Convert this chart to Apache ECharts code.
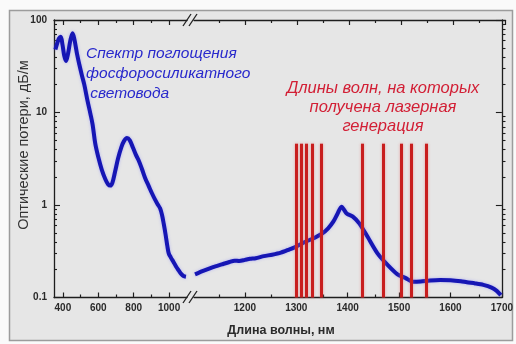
<!DOCTYPE html>
<html><head><meta charset="utf-8">
<script src="https://cdn.jsdelivr.net/npm/echarts@6/dist/echarts.min.js"></script>
<style>html,body{margin:0;padding:0;background:#fafafa}#c{width:516px;height:344px}</style>
</head><body><div id="c"></div>
<script>
// Absorption spectrum, visible/near-IR part (before the axis break), nm and dB/m
const leftWavelengths = [358, 368, 378, 388, 398, 408, 418, 430, 443, 455, 465, 480, 493, 508, 521, 540, 555, 568, 583, 600, 620, 640, 655, 668, 680, 695, 712, 730, 745, 762, 778, 795, 812, 827, 845, 865, 885, 903, 920, 935, 949, 960, 970, 980, 990, 998, 1010, 1024, 1040, 1055, 1068, 1081, 1095];
const leftLoss = [48, 56, 63, 66, 54, 41, 36, 44, 61, 72, 62, 43, 33, 25, 20, 13.2, 9.8, 7.4, 4.6, 3.3, 2.4, 1.9, 1.68, 1.62, 1.75, 2.3, 3.2, 4.2, 4.9, 5.3, 5.0, 4.2, 3.5, 3.06, 2.5, 1.95, 1.6, 1.34, 1.15, 1.02, 0.92, 0.78, 0.62, 0.48, 0.36, 0.30, 0.27, 0.244, 0.215, 0.195, 0.18, 0.171, 0.168];
// Absorption spectrum after the axis break
const rightWavelengths = [1103, 1120, 1138, 1155, 1170, 1180, 1189, 1200, 1210, 1221, 1237, 1253, 1270, 1286, 1300, 1318, 1335, 1350, 1362, 1372, 1380, 1388, 1398, 1410, 1423, 1439, 1458, 1478, 1497, 1513, 1526, 1542, 1560, 1580, 1600, 1620, 1632, 1648, 1664, 1680, 1690, 1698];
const rightLoss = [0.178, 0.195, 0.213, 0.228, 0.242, 0.25, 0.248, 0.255, 0.262, 0.266, 0.28, 0.29, 0.305, 0.33, 0.355, 0.40, 0.44, 0.49, 0.56, 0.66, 0.8, 0.96, 0.81, 0.75, 0.63, 0.45, 0.30, 0.224, 0.178, 0.162, 0.148, 0.149, 0.153, 0.155, 0.154, 0.15, 0.146, 0.142, 0.137, 0.128, 0.118, 0.106];
// Wavelengths of laser generation (red bars), nm
const laserWavelengths = [1299, 1309, 1320, 1331, 1349, 1428, 1470, 1504, 1523, 1553];
const laserBarTop = 4.6;
const laserBarBottom = 0.1;
// Tick values
const yMajorTicks = [0.1, 1, 10, 100];
const yMinorTicks = [0.2,0.3,0.4,0.5,0.6,0.7,0.8,0.9,2,3,4,5,6,7,8,9,20,30,40,50,60,70,80,90];
const leftXMajor = [400, 600, 800, 1000];
const leftXMinor = [500, 700, 900];
const rightXMajor = [1200, 1300, 1400, 1500, 1600, 1700];
const rightXMinor = [1150, 1250, 1350, 1450, 1550, 1650];

const AX = '#1e1e1e';
const FONT = 'Arial, Liberation Sans, sans-serif';
const labelStyle = {color: '#2a2a2a', fontSize: 10, fontWeight: 'bold', fontFamily: FONT};
const leftMin = 350, leftMax = 1101, rightMin = 1101, rightMax = 1700;
const leftRect = {left: 54, top: 20, width: 133, height: 277.5};
const rightRect = {left: 194, top: 20, width: 311.5, height: 277.5};

const grids = [], xAxes = [], yAxes = [];
// each grid holds exactly one x axis and one y axis
function addGrid(rect, x, y) {
  const g = grids.length;
  grids.push(Object.assign({}, rect));
  x.gridIndex = g; y.gridIndex = g;
  xAxes.push(x); yAxes.push(y);
  return g;
}
function xAx(min, max, pos, ticks, len, showLine, labels) {
  return {
    type: 'value', min: min, max: max, position: pos,
    axisLine: {show: showLine, onZero: false, lineStyle: {color: AX, width: 1.3}},
    axisTick: {show: true, inside: true, length: len, customValues: ticks, lineStyle: {color: AX, width: 1.2}},
    axisLabel: labels ? Object.assign({show: true, margin: 6, customValues: ticks,
      formatter: function (v) { return String(v); }}, labelStyle) : {show: false},
    splitLine: {show: false}
  };
}
function yAx(pos, ticks, len, showLine, labels, visible) {
  return {
    type: 'log', logBase: 10, min: 0.1, max: 100, position: pos, show: visible !== false,
    axisLine: {show: showLine, onZero: false, lineStyle: {color: AX, width: 1.3}},
    axisTick: {show: !!ticks, inside: true, length: len, customValues: ticks || undefined, lineStyle: {color: AX, width: 1.1}},
    axisLabel: labels ? Object.assign({show: true, margin: 7, customValues: ticks,
      formatter: function (v) { return String(v); }}, labelStyle) : {show: false},
    splitLine: {show: false}
  };
}

const gLeft = addGrid(leftRect, xAx(leftMin, leftMax, 'bottom', leftXMajor, 5, true, true), yAx('left', yMajorTicks, 6, true, true));
addGrid(leftRect, xAx(leftMin, leftMax, 'bottom', leftXMinor, 3, false, false), yAx('left', yMinorTicks, 3, false, false));
addGrid(leftRect, xAx(leftMin, leftMax, 'top', leftXMajor, 5, true, false), yAx('left', null, 0, false, false, false));
addGrid(leftRect, xAx(leftMin, leftMax, 'top', leftXMinor, 3, false, false), yAx('left', null, 0, false, false, false));
const gRight = addGrid(rightRect, xAx(rightMin, rightMax, 'bottom', rightXMajor, 5, true, true), yAx('right', yMajorTicks, 6, true, false));
addGrid(rightRect, xAx(rightMin, rightMax, 'bottom', rightXMinor, 3, false, false), yAx('right', yMinorTicks, 3, false, false));
addGrid(rightRect, xAx(rightMin, rightMax, 'top', rightXMajor, 5, true, false), yAx('right', null, 0, false, false, false));
addGrid(rightRect, xAx(rightMin, rightMax, 'top', rightXMinor, 3, false, false), yAx('right', null, 0, false, false, false));

const blueLine = {color: '#1616b4', width: 4, shadowColor: 'rgba(120,120,255,0.5)', shadowBlur: 3};
const option = {
  backgroundColor: '#fafafa',
  animation: false,
  grid: grids,
  xAxis: xAxes,
  yAxis: yAxes,
  series: [
    {
      type: 'line', xAxisIndex: gRight, yAxisIndex: gRight, data: [], z: 1, silent: true,
      markLine: {
        silent: true, symbol: ['none', 'none'], label: {show: false},
        lineStyle: {color: '#c81e1e', width: 3, type: 'solid', shadowColor: 'rgba(230,110,110,0.6)', shadowBlur: 3},
        data: laserWavelengths.map(function (w) { return [{coord: [w, laserBarBottom]}, {coord: [w, laserBarTop]}]; })
      }
    },
    {
      type: 'line', xAxisIndex: gLeft, yAxisIndex: gLeft, z: 3, showSymbol: false, smooth: 0.35, lineStyle: blueLine,
      data: leftWavelengths.map(function (w, i) { return [w, leftLoss[i]]; })
    },
    {
      type: 'line', xAxisIndex: gRight, yAxisIndex: gRight, z: 3, showSymbol: false, smooth: 0.25, lineStyle: blueLine,
      data: rightWavelengths.map(function (w, i) { return [w, rightLoss[i]]; })
    }
  ],
  graphic: [
    {type: 'rect', z: -10, shape: {x: 9.5, y: 10.5, width: 503, height: 330}, style: {fill: '#e6e6e6', stroke: '#9c9c9c', lineWidth: 1.5}},
    {type: 'line', z: 10, shape: {x1: 183, y1: 303, x2: 191, y2: 291}, style: {stroke: AX, lineWidth: 1.3}},
    {type: 'line', z: 10, shape: {x1: 189, y1: 303, x2: 197, y2: 291}, style: {stroke: AX, lineWidth: 1.3}},
    {type: 'line', z: 10, shape: {x1: 183, y1: 26, x2: 191, y2: 14}, style: {stroke: AX, lineWidth: 1.3}},
    {type: 'line', z: 10, shape: {x1: 189, y1: 26, x2: 197, y2: 14}, style: {stroke: AX, lineWidth: 1.3}},
    {type: 'text', z: 10, x: 24, y: 145, rotation: Math.PI / 2,
      style: {text: 'Оптические потери, дБ/м', fill: '#333', font: '14.5px ' + FONT, textAlign: 'center', textVerticalAlign: 'middle'}},
    {type: 'text', z: 10, x: 281, y: 331,
      style: {text: 'Длина волны, нм', fill: '#2a2a2a', font: 'bold 12.5px ' + FONT, textAlign: 'center', textVerticalAlign: 'middle'}},
    {type: 'text', z: 10, x: 86, y: 44,
      style: {text: 'Спектр поглощения\nфосфоросиликатного\n световода', fill: '#2828cc', font: 'italic 15.5px ' + FONT, lineHeight: 20, textAlign: 'left', textVerticalAlign: 'top'}},
    {type: 'text', z: 10, x: 383, y: 78.5,
      style: {text: 'Длины волн, на которых\nполучена лазерная\nгенерация', fill: '#d21f35', font: 'italic 16.5px ' + FONT, lineHeight: 19, textAlign: 'center', textVerticalAlign: 'top'}}
  ]
};
const chart = echarts.init(document.getElementById('c'), null, {renderer: 'canvas'});
chart.setOption(option);
</script>
</body></html>
